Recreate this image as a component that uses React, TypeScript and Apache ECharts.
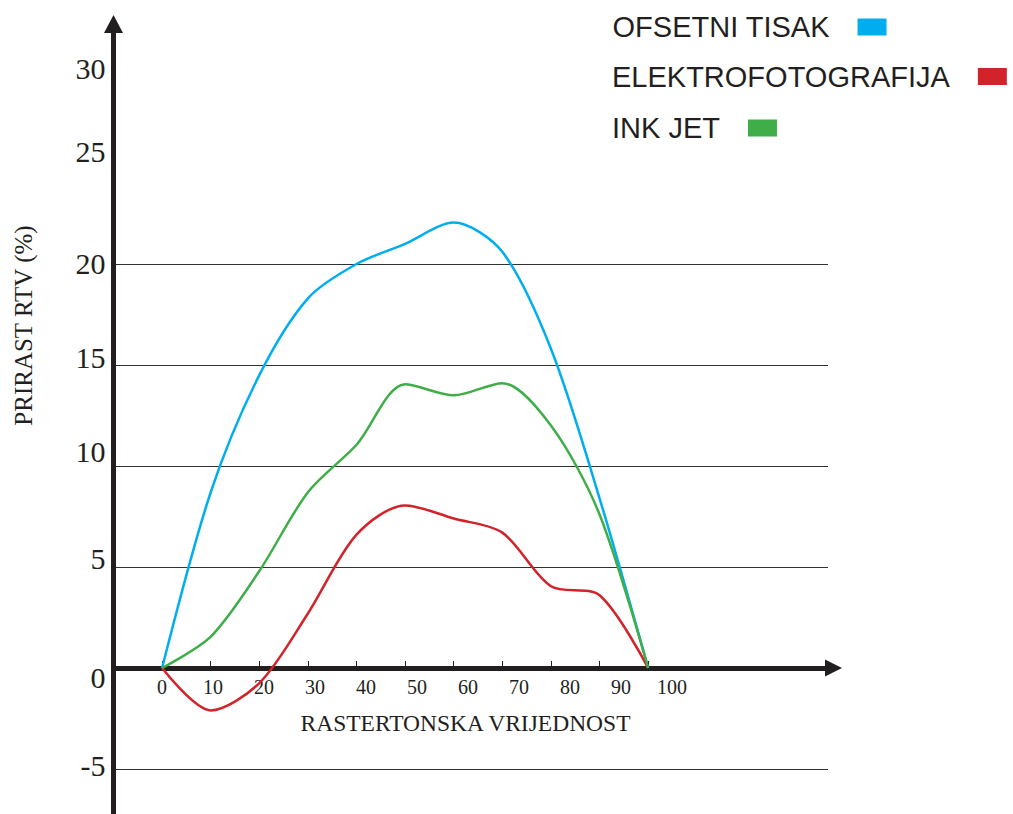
import React, { useEffect, useRef } from 'react';
import * as echarts from 'echarts';

// ---- data ----
const xValues = [0, 10, 20, 30, 40, 50, 60, 70, 80, 90, 100];
const xTickLabels = [0, 10, 20, 30, 40, 50, 60, 70, 80, 90, 100];
const yTickLabels = [-5, 0, 5, 10, 15, 20, 25, 30];
const yGridValues = [-5, 5, 10, 15, 20];
const seriesNames = ['OFSETNI TISAK', 'ELEKTROFOTOGRAFIJA', 'INK JET'];
const ofsetniTisak = [0, 8.7, 14.5, 18.3, 20.0, 21.0, 22.05, 20.6, 15.8, 8.4, 0];
const elektrofotografija = [0, -2.1, -0.75, 2.7, 6.6, 8.05, 7.4, 6.7, 4.05, 3.6, 0];
const inkJet = [0, 1.55, 4.8, 8.7, 11.05, 14.05, 13.5, 14.1, 12.0, 7.6, 0];

export default function App() {
  const ref = useRef<HTMLDivElement>(null);

  useEffect(() => {
    if (!ref.current) return;
    const chart = echarts.init(ref.current, null, { renderer: 'svg' });
    const INK = '#231f20';
    const SERIF = '"Liberation Serif", "Times New Roman", serif';
    const SANS = '"Liberation Sans", Arial, sans-serif';
    const colors = ['#00aeef', '#d2232a', '#3fae49'];
    const seriesData = [ofsetniTisak, elektrofotografija, inkJet];
    const legendTops = [12.5, 62, 113.5];

    // small vertical nudges of the y tick labels (as in the reference)
    const yShift: Record<string, number> = {
      '30': 7, '25': -11, '20': 0, '15': -7, '10': -14, '5': -8, '0': 10, '-5': -3,
    };
    const rk = (v: number) => 'y' + (v < 0 ? 'n' + -v : String(v));
    const rich: Record<string, any> = {};
    yTickLabels.forEach((v) => {
      const s = yShift[String(v)] || 0;
      rich[rk(v)] = {
        fontFamily: SERIF,
        fontSize: 30,
        lineHeight: 30,
        color: INK,
        padding: s >= 0 ? [2 * s, 0, 0, 0] : [0, 0, -2 * s, 0],
      };
    });

    chart.setOption({
      animation: false,
      grid: { left: 113.5, top: 24, width: 714.5, height: 790, containLabel: false },
      legend: seriesNames.map((name, i) => ({
        data: [name],
        orient: 'vertical',
        left: 612,
        top: legendTops[i],
        padding: 0,
        align: 'right',
        icon: 'rect',
        itemWidth: 29,
        itemHeight: 17,
        selectedMode: false,
        itemStyle: { borderWidth: 0 },
        textStyle: {
          fontFamily: SANS,
          fontSize: 29,
          lineHeight: 17,
          color: INK,
          padding: [0, 23, 0, 0],
        },
      })),
      xAxis: [
        {
          type: 'value',
          min: -10,
          max: 137,
          position: 'bottom',
          axisLine: {
            show: true,
            onZero: true,
            symbol: ['none', 'triangle'],
            symbolSize: [17, 17],
            symbolOffset: [0, 5.5],
            lineStyle: { color: INK, width: 5 },
          },
          axisTick: {
            show: true,
            inside: true,
            length: 7,
            customValues: xValues,
            lineStyle: { color: INK, width: 1 },
          },
          axisLabel: { show: false },
          splitLine: { show: false },
        },
        {
          type: 'value',
          min: -9.51,
          max: 130.59,
          position: 'bottom',
          offset: -146,
          axisLine: { show: false, onZero: false },
          axisTick: { show: false },
          splitLine: { show: false },
          axisLabel: {
            show: true,
            customValues: xTickLabels,
            fontFamily: SERIF,
            fontSize: 20,
            lineHeight: 20,
            color: INK,
            margin: 9,
          },
          name: 'RASTERTONSKA VRIJEDNOST',
          nameLocation: 'middle',
          nameGap: 43,
          nameTextStyle: {
            fontFamily: SERIF,
            fontSize: 23.5,
            lineHeight: 23.5,
            color: INK,
            padding: [0, 10.5, 0, 0],
          },
        },
      ],
      yAxis: {
        type: 'value',
        min: -7.228,
        max: 31.88,
        axisLine: {
          show: true,
          onZero: false,
          symbol: ['none', 'triangle'],
          symbolSize: [19, 18],
          lineStyle: { color: INK, width: 5 },
        },
        axisTick: { show: false, customValues: yGridValues },
        splitLine: { show: true, lineStyle: { color: '#333333', width: 1 } },
        axisLabel: {
          show: true,
          customValues: yTickLabels,
          margin: 8,
          fontFamily: SERIF,
          fontSize: 30,
          color: INK,
          formatter: (v: number) => `{${rk(v)}|${v}}`,
          rich,
        },
        name: 'PRIRAST RTV (%)',
        nameLocation: 'middle',
        nameRotate: 90,
        nameGap: 78,
        nameTextStyle: {
          fontFamily: SERIF,
          fontSize: 25,
          lineHeight: 25,
          color: INK,
          padding: [0, 0, 0, 187],
        },
      },
      series: seriesNames.map((name, i) => ({
        name,
        type: 'line',
        xAxisIndex: 0,
        yAxisIndex: 0,
        data: xValues.map((x, j) => [x, seriesData[i][j]]),
        smooth: 0.3,
        symbol: 'none',
        showSymbol: false,
        lineStyle: { color: colors[i], width: 2.5 },
        itemStyle: { color: colors[i] },
        z: 3,
      })),
    });

    return () => chart.dispose();
  }, []);

  return (
    <div
      ref={ref}
      style={{ position: 'absolute', left: 0, top: 0, width: 1013, height: 814 }}
    />
  );
}
